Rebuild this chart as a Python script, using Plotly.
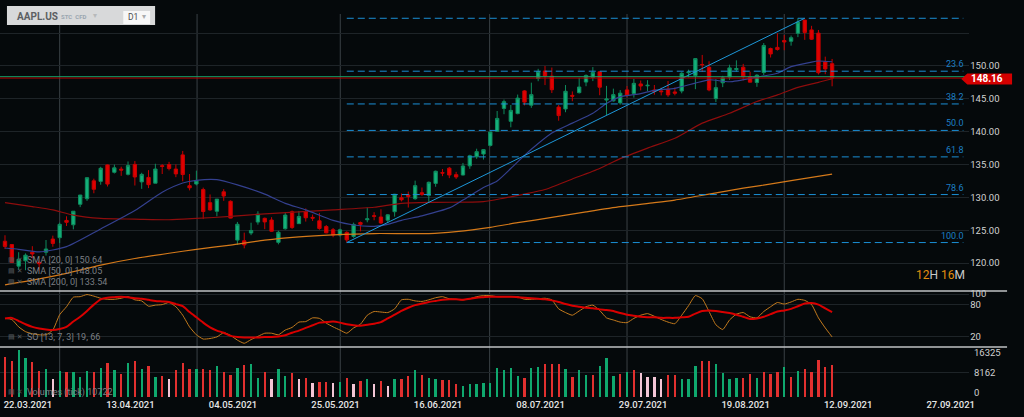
import plotly.graph_objects as go

# ---------------- data ----------------
opens = [123.33, 122.82, 119.54, 120.35, 121.65, 120.11, 121.65,
         123.66, 123.87, 126.50, 125.83, 128.95, 129.80, 132.52, 132.44, 134.94, 133.82, 134.30, 133.51, 135.02, 132.36, 133.04, 132.16, 134.83, 135.01, 134.31, 136.47, 131.78,
         132.04, 131.19, 129.20, 127.89, 130.85, 129.41, 123.50, 123.40, 124.58, 126.25, 126.82, 126.56, 123.16, 125.23, 127.82, 126.01, 127.82, 126.96, 126.44, 125.57,
         125.08, 124.28, 124.68, 124.07, 126.17, 126.60, 127.21, 127.02, 126.53, 127.82, 129.94, 130.37, 129.80, 130.71, 130.30, 132.13, 133.77, 134.45, 133.46, 133.41, 134.80, 136.17,
         136.60, 137.90, 140.07, 143.54, 141.58, 142.75, 146.21, 144.03, 148.10, 149.24, 148.46, 143.75, 143.46, 145.53, 145.94, 147.55, 148.27, 149.12, 144.81, 144.69, 144.38,
         146.36, 145.81, 147.27, 146.98, 146.35, 146.20, 146.44, 146.05, 146.19, 148.97, 148.54, 150.23, 149.80, 145.03, 147.44, 148.31, 149.45, 149.81, 148.35, 147.48, 149.00, 152.66,
         152.83, 153.87, 153.76, 154.97, 156.98, 155.49, 155.00, 150.63, 150.35]
highs = [124.24, 122.90, 121.66, 121.48, 122.58, 120.40, 123.52,
         124.18, 126.16, 127.13, 127.92, 130.39, 133.04, 132.85, 134.66, 135.00, 135.00, 134.67, 135.47, 135.53, 133.75, 134.15, 135.12, 135.06, 135.41, 135.02, 137.07, 133.56,
         134.07, 131.49, 130.45, 129.75, 131.26, 129.54, 126.27, 124.64, 126.15, 127.89, 126.93, 126.99, 124.92, 127.72, 128.00, 127.94, 128.32, 127.39, 127.64, 125.80,
         125.35, 125.24, 124.85, 126.16, 126.32, 128.46, 127.75, 128.19, 127.44, 130.54, 130.60, 130.89, 132.55, 131.51, 132.41, 134.08, 134.32, 134.64, 133.89, 135.25, 136.49, 137.41,
         137.33, 140.00, 143.15, 144.89, 144.06, 145.65, 146.32, 147.46, 149.57, 150.00, 149.76, 144.07, 147.10, 146.13, 148.20, 148.72, 149.83, 149.21, 146.97, 146.55, 146.33,
         146.95, 148.04, 147.79, 147.84, 147.11, 146.70, 147.71, 146.72, 149.05, 149.44, 151.19, 151.68, 150.72, 148.00, 148.50, 150.19, 150.86, 150.32, 149.12, 148.75, 153.49, 152.80,
         154.98, 154.72, 154.63, 157.26, 157.04, 156.11, 155.48, 151.42, 151.07]
lows = [122.14, 120.07, 119.00, 118.92, 120.73, 118.86, 121.15,
        122.49, 123.07, 125.65, 125.14, 128.52, 129.47, 130.63, 131.93, 131.66, 133.64, 133.28, 133.34, 131.81, 131.30, 131.41, 132.16, 133.56, 134.11, 133.08, 132.45, 131.07,
        131.83, 126.70, 127.97, 127.13, 129.48, 126.81, 122.77, 122.25, 124.26, 125.85, 125.17, 124.78, 122.86, 125.10, 125.21, 125.94, 126.32, 126.42, 125.08, 124.55,
        123.94, 124.05, 123.13, 123.85, 124.83, 126.21, 126.52, 125.94, 126.10, 127.07, 129.39, 128.46, 129.65, 130.24, 129.21, 131.62, 133.23, 132.93, 132.81, 133.35, 134.35, 135.87,
        135.76, 137.75, 140.07, 142.66, 140.67, 142.65, 144.00, 143.63, 147.68, 147.09, 145.88, 141.67, 142.96, 144.63, 145.81, 146.92, 147.70, 145.55, 142.54, 144.58, 144.11,
        145.25, 145.18, 146.28, 146.17, 145.63, 145.52, 145.30, 145.53, 145.84, 148.27, 146.47, 149.09, 146.15, 144.50, 146.78, 147.89, 149.15, 147.80, 147.51, 146.83, 148.61, 151.29,
        152.34, 152.40, 153.09, 154.39, 153.98, 153.95, 148.70, 148.75, 146.91]
closes = [122.54, 120.09, 120.59, 121.21, 121.39, 119.90, 122.15,
          123.00, 125.90, 126.21, 127.90, 130.36, 133.00, 131.24, 134.43, 132.03, 134.50, 134.16, 134.84, 133.11, 133.50, 131.94, 134.32, 134.72, 134.39, 133.58, 133.48, 131.46,
          132.54, 127.85, 128.10, 129.74, 130.21, 126.85, 125.91, 122.77, 124.97, 127.45, 126.27, 124.85, 124.69, 127.31, 125.43, 127.10, 126.90, 126.85, 125.28, 124.61,
          124.28, 125.06, 123.54, 125.89, 125.90, 126.74, 127.13, 126.11, 127.35, 130.48, 129.64, 130.15, 131.79, 130.46, 132.30, 133.98, 133.70, 133.41, 133.11, 134.78, 136.33, 136.96,
          137.27, 139.96, 142.02, 144.57, 143.24, 145.11, 144.50, 145.64, 149.15, 148.48, 146.39, 142.45, 146.15, 145.40, 146.80, 148.56, 148.99, 146.77, 144.98, 145.64, 145.86,
          145.52, 147.36, 146.95, 147.06, 146.14, 146.09, 145.60, 145.86, 148.89, 149.10, 151.12, 150.19, 146.36, 146.70, 148.19, 149.71, 149.62, 148.36, 147.54, 148.60, 153.12, 151.83,
          152.51, 153.65, 154.30, 156.69, 155.11, 154.07, 148.97, 149.55, 148.16]

volumes = [13320, 11890, 15550, 12990, 11660, 8560, 9120, 5890, 8560, 8120, 8120, 6460, 8560, 8340, 9660, 11120,
           8890, 7560, 11120, 11890, 9120, 10220, 6660, 6880, 5890, 8890, 11120, 9120, 9120, 9120, 8890, 10220,
           8340, 7230, 9450, 10450, 10780, 6330, 8340, 5790, 9120, 6880, 7790, 5790, 6120, 4460, 4900, 4900,
           4560, 4790, 6230, 4230, 5230, 5790, 4230, 5230, 3460, 5790, 5790, 6880, 8890, 7230, 6230, 5790,
           5560, 5560, 4230, 3670, 4230, 4230, 4560, 4460, 9450, 8890,
           9450, 7000, 6120, 9450, 10000, 10780, 10780, 10890, 9230, 6550, 8890, 7120, 7120, 10220, 12780, 6880,
           7560, 8340, 8890, 7790, 6550, 6550, 5790, 7340, 7120, 5790, 5790, 10220, 11890, 11890, 10890, 7900,
           5790, 6230, 6230, 7560, 6230, 8340, 7560, 8120, 9780, 6550, 8560, 9120, 8340, 12220, 10000, 10722]
# g = up day, r = down day, p = pale bar
vol_kind = (list("rrggrrgpgrgggrgrgrgrgrgrprrrgrrgrrgrggrpggrprprrpgrprgprpgrrgrggrrrggggggg")
            + list("ggrggrrrgrggrgggrgrpppprrgggrrggggrrgrrrgrgrrrrr"))

stoch_k = [54, 52, 38, 29, 25, 23, 23, 32, 61, 76, 94, 95, 99, 96, 92, 90, 90, 92, 95, 89,
           87, 77, 79, 80, 84, 76, 60, 38, 23, 15, 16, 19, 27, 22, 13, 7, 14, 20, 26, 26,
           23, 32, 37, 47, 48, 55, 54, 45, 38, 32, 26, 36, 43, 60, 67, 66, 65, 72, 89, 90,
           87, 86, 89, 93, 95, 91, 90, 89, 91, 95, 97, 97, 95, 95, 95, 95, 90, 90, 91, 92,
           89, 72, 65, 60, 68, 76, 79, 69, 55, 51, 47, 46, 54, 60, 63, 58, 52, 47, 44, 60,
           78, 97, 91, 67, 42, 33, 51, 62, 65, 57, 55, 67, 76, 84, 81, 85, 90, 88, 80, 55,
           36, 19]
stoch_d = [54, 55, 49, 43, 38, 35, 33, 32, 34, 38, 48, 57, 68, 80, 90, 93, 94, 95, 94, 92,
           91, 89, 87, 86, 85, 81, 77, 66, 56, 46, 37, 31, 27, 21, 19, 18, 18, 18, 19, 19,
           20, 22, 27, 31, 36, 41, 46, 47, 48, 46, 43, 41, 40, 42, 44, 47, 54, 61, 68, 74,
           79, 82, 85, 87, 89, 90, 90, 89, 91, 93, 94, 95, 95, 95, 95, 94, 93, 92, 91, 90,
           88, 85, 81, 78, 76, 74, 73, 71, 70, 68, 64, 61, 59, 57, 56, 56, 55, 55, 55, 56,
           57, 63, 68, 69, 68, 66, 64, 61, 57, 53, 54, 57, 62, 67, 69, 72, 77, 82, 83, 80,
           73, 66]

sma20_idx = [0, 2, 5, 9, 14, 19, 23, 26, 28, 31, 34, 38, 41, 44, 48, 51, 54, 56, 58, 61, 65, 67,
             70, 72, 74, 76, 78, 80, 83, 86, 88, 90, 93, 95, 98, 101, 103, 106, 110, 113, 115, 118, 119, 121]
sma20_val = [122.3, 122.1, 121.7, 122.5, 125.2, 128.0, 130.8, 132.2, 132.6, 132.7, 131.9, 130.5, 129.1,
             128.1, 126.5, 125.8, 125.6, 125.9, 126.5, 127.2, 128.4, 129.6, 131.5, 132.5, 134.4, 136.4,
             138.2, 139.8, 141.3, 142.8, 144.3, 145.3, 145.8, 146.3, 146.6, 147.4, 147.9, 147.6, 148.3,
             148.9, 149.9, 150.6, 150.76, 150.64]
sma50_idx = [0, 4, 7, 10, 14, 19, 24, 28, 33, 38, 43, 48, 54, 58, 63, 70, 73, 76, 79, 83, 87, 90,
             94, 98, 102, 106, 110, 113, 116, 119, 121]
sma50_val = [129.2, 128.6, 128.1, 127.3, 126.8, 126.7, 126.6, 126.8, 127.1, 127.5, 127.8, 128.1, 128.5,
             129.1, 129.25, 129.35, 129.9, 130.5, 131.2, 132.8, 134.4, 135.9, 137.5, 139.0, 141.3, 142.8,
             144.6, 145.6, 146.75, 147.5, 148.05]
sma200_idx = [0, 4, 9, 14, 19, 24, 28, 33, 38, 43, 48, 54, 62, 66, 71, 75, 80, 85, 90, 95, 98, 103,
              108, 113, 118, 121]
sma200_val = [116.7, 117.4, 118.45, 119.7, 120.7, 121.5, 122.1, 122.75, 123.5, 124.0, 124.3, 124.5,
              124.5, 124.8, 125.45, 126.15, 126.95, 127.8, 128.6, 129.2, 129.6, 130.5, 131.4, 132.2,
              133.05, 133.54]

date_labels = ["22.03.2021", "13.04.2021", "04.05.2021", "25.05.2021", "16.06.2021",
               "08.07.2021", "29.07.2021", "19.08.2021", "12.09.2021", "27.09.2021"]
price_ticks = [120, 125, 130, 135, 140, 145, 150, 155]
stoch_ticks = [20, 80, 100]
vol_ticks = [0, 8162, 16325]

fib_start, fib_end = 50, 117          # bar of the swing low / swing high
fib_low, fib_high = 123.13, 157.26
fib_ratios = [0.0, 23.6, 38.2, 50.0, 61.8, 78.6, 100.0]
bid_price, ask_price = 148.16, 148.37

# ---------------- layout helpers (positions / styles) ----------------
W, H = 1024, 417
def PX(x): return x / W
def PY(y): return 1 - y / H

BG = "#05090b"
GRID = "#1e2428"
FONT = "Roboto"
bars = list(range(len(closes)))
X0, X1 = -0.73, 141.07
XR = 975 / W

fig = go.Figure()

fig.add_trace(go.Candlestick(
    x=bars, open=opens, high=highs, low=lows, close=closes,
    increasing=dict(fillcolor="#14b07a", line=dict(color="#0e8a5d", width=1)),
    decreasing=dict(fillcolor="#e00000", line=dict(color="#c80000", width=1)),
    whiskerwidth=0, showlegend=False, hoverinfo="skip", xaxis="x", yaxis="y"))

for idx, val, col in [(sma200_idx, sma200_val, "#d4791a"),
                      (sma50_idx, sma50_val, "#8e0d0d"),
                      (sma20_idx, sma20_val, "#34408f")]:
    fig.add_trace(go.Scatter(x=idx, y=val, mode="lines",
                             line=dict(color=col, width=1.2, shape="spline", smoothing=0.6),
                             showlegend=False, hoverinfo="skip", xaxis="x", yaxis="y"))

fig.add_trace(go.Scatter(x=bars, y=stoch_k, mode="lines",
                         line=dict(color="#c47b1e", width=1, shape="spline", smoothing=0.5),
                         showlegend=False, hoverinfo="skip", xaxis="x", yaxis="y2"))
fig.add_trace(go.Scatter(x=bars, y=stoch_d, mode="lines",
                         line=dict(color="#d90000", width=2, shape="spline", smoothing=0.6),
                         showlegend=False, hoverinfo="skip", xaxis="x", yaxis="y2"))

kind_color = {"g": "#0fa86e", "r": "#e2302f", "p": "#f3c6d6"}
fig.add_trace(go.Bar(x=bars, y=volumes, width=0.34,
                     marker=dict(color=[kind_color[k] for k in vol_kind], line=dict(width=0)),
                     showlegend=False, hoverinfo="skip", xaxis="x", yaxis="y3"))

shapes = []
# vertical grid lines through all panels
for xv in [8.0, 28.1, 49.05, 70.9, 91.0, 114.0]:
    shapes.append(dict(type="line", xref="x", yref="paper", x0=xv, x1=xv, y0=PY(397), y1=PY(14),
                       line=dict(color="#3a4045", width=1), layer="below"))
# fibonacci levels
fib_levels = [fib_high - r / 100 * (fib_high - fib_low) for r in fib_ratios]
for lv in fib_levels:
    shapes.append(dict(type="line", xref="x", yref="y", x0=fib_start, x1=140.2, y0=lv, y1=lv,
                       line=dict(color="#1b8fd6", width=1, dash="7px,4px")))
# trend line
shapes.append(dict(type="line", xref="x", yref="y", x0=fib_start, x1=fib_end, y0=fib_low, y1=fib_high,
                   line=dict(color="#1e98da", width=1)))
# ask / bid lines
shapes.append(dict(type="line", xref="x", yref="y", x0=X0, x1=141.07, y0=ask_price, y1=ask_price,
                   line=dict(color="#13a46c", width=1)))
shapes.append(dict(type="line", xref="x", yref="y", x0=X0, x1=141.07, y0=bid_price, y1=bid_price,
                   line=dict(color="#b00000", width=1)))
# panel separators
for yy in [291, 347]:
    shapes.append(dict(type="line", xref="paper", yref="paper", x0=0, x1=PX(1013), y0=PY(yy), y1=PY(yy),
                       line=dict(color="#bfc2c4", width=1.3)))
# price tag
tag_y = 79
tag_path = (f"M {PX(967)} {PY(tag_y)} L {PX(973)} {PY(tag_y-5.5)} L {PX(1018)} {PY(tag_y-5.5)} "
            f"L {PX(1018)} {PY(tag_y+5.5)} L {PX(973)} {PY(tag_y+5.5)} Z")
shapes.append(dict(type="path", xref="paper", yref="paper", path=tag_path,
                   fillcolor="#d40000", line=dict(width=0)))
# header box
shapes.append(dict(type="rect", xref="paper", yref="paper", x0=PX(7), x1=PX(156), y0=PY(25), y1=PY(6),
                   fillcolor="#d8d9da", line=dict(width=0)))
shapes.append(dict(type="rect", xref="paper", yref="paper", x0=PX(124), x1=PX(151), y0=PY(24), y1=PY(11),
                   fillcolor="#f7f7f7", line=dict(width=0)))

ann = []
for r, lv in zip(fib_ratios, fib_levels):
    if r == 0:
        continue
    ann.append(dict(xref="x", yref="y", x=140.6, y=lv, text=f"{r:.1f}", showarrow=False,
                    xanchor="right", yanchor="middle", yshift=7,
                    font=dict(family=FONT, size=9, color="#1c7fc4")))
ann.append(dict(xref="paper", yref="paper", x=PX(993), y=PY(tag_y), text=f"<b>{bid_price:.2f}</b>",
                showarrow=False, xanchor="center", yanchor="middle",
                font=dict(family=FONT, size=10, color="#ffffff")))
ann.append(dict(xref="paper", yref="paper", x=PX(973), y=PY(275),
                text="<span style='color:#e08e10'>12</span><span style='color:#c9c9c9'>H</span> "
                     "<span style='color:#e08e10'>16</span><span style='color:#c9c9c9'>M</span>",
                showarrow=False, xanchor="right", yanchor="middle",
                font=dict(family=FONT, size=12)))
# indicator legends
leg_font = dict(family=FONT, size=9, color="#7b7f83")
icon_font = dict(family="DejaVu Sans", size=7, color="#555a5e")
legends = [(260, f"SMA [20, 0] {sma20_val[-1]:.2f}"),
           (271, f"SMA [50, 0] {sma50_val[-1]:.2f}"),
           (282, f"SMA [200, 0] {sma200_val[-1]:.2f}"),
           (337, f"SO [13, 7, 3] {stoch_k[-1]}, {stoch_d[-1]}"),
           (392, f"Volumes (tick) {volumes[-1]}")]
for yy, txt in legends:
    ann.append(dict(xref="paper", yref="paper", x=PX(25), y=PY(yy), text=txt, showarrow=False,
                    xanchor="left", yanchor="middle", font=leg_font))
    ann.append(dict(xref="paper", yref="paper", x=PX(6), y=PY(yy), text="▤ ✕", showarrow=False,
                    xanchor="left", yanchor="middle", font=icon_font))
# volume axis labels (kept inside the panel)
for v, sh in zip(vol_ticks, [4, 0, -5]):
    ann.append(dict(xref="paper", yref="y3", x=PX(978), y=v, yshift=sh, text=str(v), showarrow=False,
                    xanchor="left", yanchor="middle", font=dict(family=FONT, size=9.5, color="#d0d0d0")))
# header texts
ann.append(dict(xref="paper", yref="paper", x=PX(15), y=PY(16.5), text="<b>AAPL.US</b>", showarrow=False,
                xanchor="left", yanchor="middle", font=dict(family=FONT, size=10, color="#5c5f62")))
ann.append(dict(xref="paper", yref="paper", x=PX(59), y=PY(16.5), text="<b>STC  CFD</b>", showarrow=False,
                xanchor="left", yanchor="middle", font=dict(family=FONT, size=6, color="#9aa6b0")))
ann.append(dict(xref="paper", yref="paper", x=PX(92), y=PY(16), text="▾", showarrow=False,
                xanchor="left", yanchor="middle", font=dict(family="DejaVu Sans", size=8, color="#b7b9bb")))
ann.append(dict(xref="paper", yref="paper", x=PX(127), y=PY(17.5), text="D1", showarrow=False,
                xanchor="left", yanchor="middle", font=dict(family=FONT, size=8.5, color="#4a4d50")))
ann.append(dict(xref="paper", yref="paper", x=PX(141), y=PY(17), text="▾", showarrow=False,
                xanchor="left", yanchor="middle", font=dict(family="DejaVu Sans", size=8, color="#a9abad")))

tick_font = dict(family=FONT, size=9.5, color="#d2d2d2")
fig.update_layout(
    width=W, height=H, margin=dict(l=0, r=0, t=0, b=0),
    paper_bgcolor=BG, plot_bgcolor=BG, showlegend=False, dragmode=False,
    shapes=shapes, annotations=ann, bargap=0,
    xaxis=dict(domain=[0, XR], range=[X0, X1], anchor="y3", showgrid=False, zeroline=False,
               showline=False, ticks="", rangeslider=dict(visible=False),
               tickvals=[3.35 + 15 * k for k in range(len(date_labels))], ticktext=date_labels,
               tickfont=dict(family=FONT, size=9.5, color="#e6e6e6", weight=500)),
    yaxis=dict(domain=[PY(290), PY(14)], range=[115.91, 157.91], side="right", anchor="x",
               tickvals=price_ticks, ticktext=[f"{p:.2f}" if p < 155 else "" for p in price_ticks],
               showgrid=True, gridcolor=GRID, gridwidth=1, zeroline=False, showline=False, ticks="",
               tickfont=tick_font, automargin=False),
    yaxis2=dict(domain=[PY(347), PY(291)], range=[0, 105.7], side="right", anchor="x",
                tickvals=stoch_ticks, showgrid=True, gridcolor=GRID, zeroline=False, showline=False,
                ticks="", tickfont=tick_font, automargin=False),
    yaxis3=dict(domain=[PY(397), PY(347)], range=[-100, 16558], side="right", anchor="x",
                tickvals=vol_ticks[:2], showticklabels=False, showgrid=True, gridcolor=GRID,
                zeroline=False, showline=False, ticks="", automargin=False),
)

fig.write_html("out.html", config={"displayModeBar": False},
               post_script="document.body.style.margin='0';document.body.style.overflow='hidden';"
                           "document.documentElement.style.overflow='hidden';"
                           "document.body.style.background='" + BG + "';")
